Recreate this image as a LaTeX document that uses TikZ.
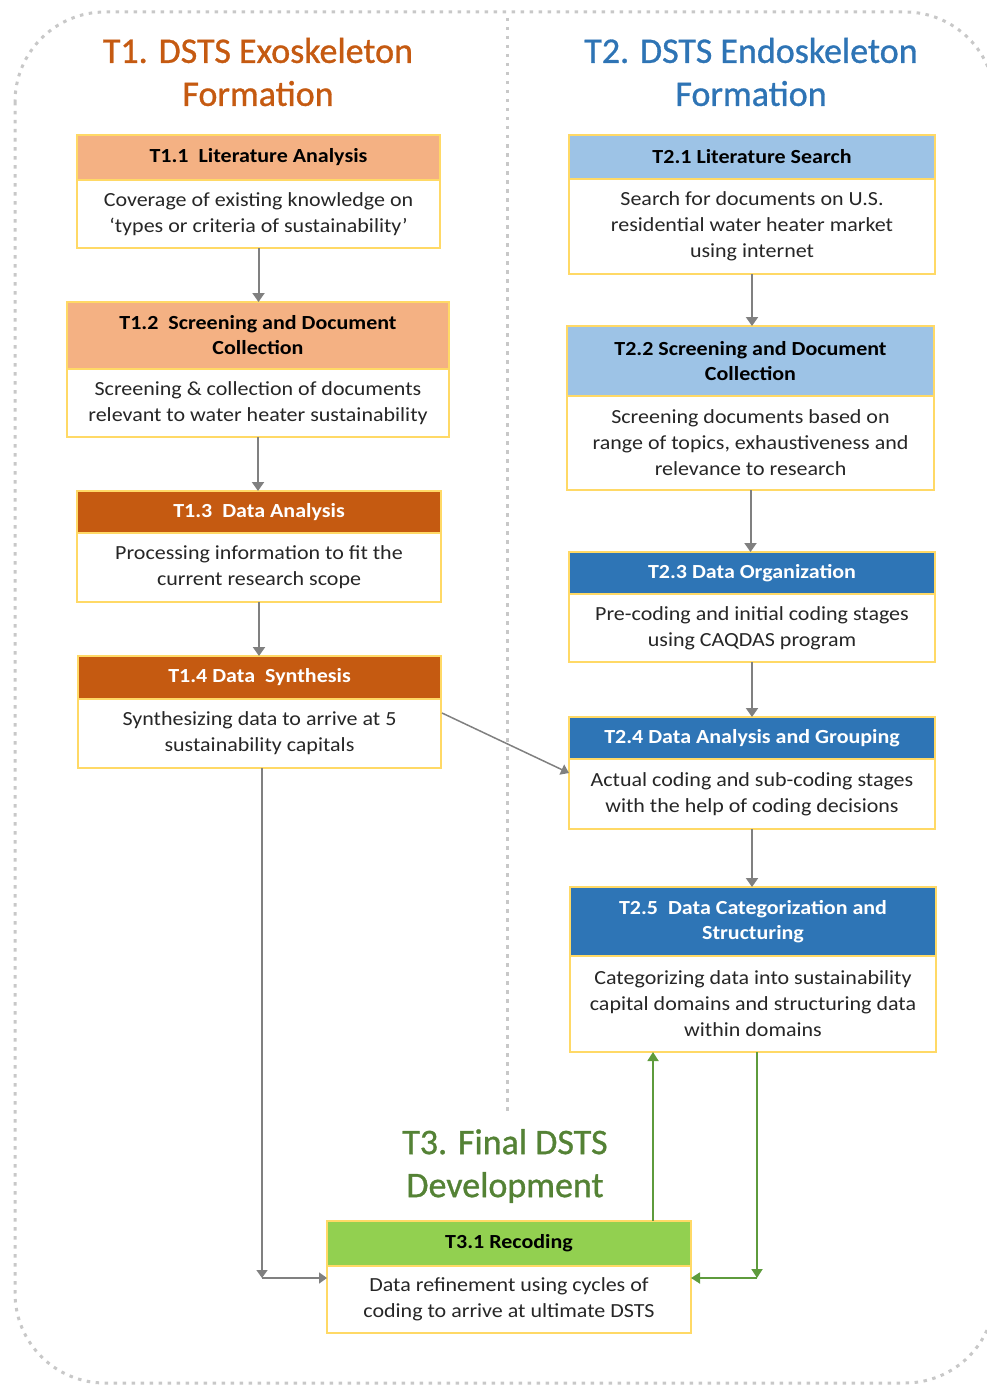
\documentclass[tikz,border=0pt]{standalone}
\usepackage{fontspec}
\setmainfont{Carlito}
\newfontfamily\boxfont{Carlito}[FakeStretch=1.1]
\newfontfamily\titlefont{Carlito}[FakeBold=0.9]
\usetikzlibrary{arrows.meta,calc}

\definecolor{boxline}{HTML}{FFD966}
\definecolor{lorange}{HTML}{F4B183}
\definecolor{dorange}{HTML}{C55A11}
\definecolor{lblue}{HTML}{9DC3E6}
\definecolor{dblue}{HTML}{2E75B6}
\definecolor{lgreen}{HTML}{92D050}
\definecolor{ttlorange}{HTML}{C55A11}
\definecolor{ttlblue}{HTML}{2E74B5}
\definecolor{ttlgreen}{HTML}{548235}
\definecolor{linegray}{HTML}{808080}
\definecolor{dotgray}{HTML}{C8C8C8}
\definecolor{linegreen}{HTML}{5E9B3C}
\definecolor{bodytext}{HTML}{262626}

\begin{document}
\begin{tikzpicture}[x=1pt,y=-1pt,
  hdr/.style={draw=boxline, line width=2.5pt, inner sep=0pt, outer sep=0pt,
    anchor=north west, align=center,
    font=\boxfont\bfseries\fontsize{20}{25}\selectfont},
  bdy/.style={draw=boxline, line width=2.5pt, inner sep=0pt, outer sep=0pt,
    anchor=north west, align=center, fill=white, text=bodytext,
    font=\boxfont\fontsize{20}{26}\selectfont},
  ttl/.style={align=center, font=\titlefont\fontsize{36}{43}\selectfont},
  dotline/.style={draw=dotgray, line width=3pt, dash pattern=on 3.5pt off 5.5pt},
  garrow/.style={draw=linegray, line width=2pt, -{Triangle[width=12pt,length=9pt]}},
  thinarrow/.style={draw=linegray, line width=1.5pt, -{Triangle[width=11pt,length=8pt]}},
  grarrow/.style={draw=linegreen, line width=1.8pt, -{Triangle[width=11pt,length=9pt]}}
]
\useasboundingbox (0,0) rectangle (986,1386);

% frame and column divider
\draw[dotline, rounded corners=90pt] (15,12) rectangle (995,1383);
\draw[dotline] (507,18) -- (507,1113);

% phase titles
\node[ttl, text=ttlorange] (ttl1) at (258,72) {T1. DSTS Exoskeleton\\Formation};
\node[ttl, text=ttlblue] (ttl2) at (751,72) {T2. DSTS Endoskeleton\\Formation};
\node[ttl, text=ttlgreen] (ttl3) at (505,1166) {T3. Final DSTS\\Development};

% T1 column
\node[hdr, fill=lorange, minimum width=363pt, minimum height=45pt] (t11h) at (77,135)
  {T1.1\enspace Literature Analysis};
\node[bdy, minimum width=363pt, minimum height=68pt] (t11b) at (77,180)
  {Coverage of existing knowledge on\\‘types or criteria of sustainability’};

\node[hdr, fill=lorange, minimum width=382pt, minimum height=67pt] (t12h) at (67,302)
  {T1.2\enspace Screening and Document\\Collection};
\node[bdy, minimum width=382pt, minimum height=68pt] (t12b) at (67,369)
  {Screening \& collection of documents\\relevant to water heater sustainability};

\node[hdr, fill=dorange, text=white, minimum width=364pt, minimum height=42pt] (t13h) at (77,491)
  {T1.3\enspace Data Analysis};
\node[bdy, minimum width=364pt, minimum height=69pt] (t13b) at (77,533)
  {Processing information to fit the\\current research scope};

\node[hdr, fill=dorange, text=white, minimum width=363pt, minimum height=43pt] (t14h) at (78,656)
  {T1.4 Data\enspace Synthesis};
\node[bdy, minimum width=363pt, minimum height=69pt] (t14b) at (78,699)
  {Synthesizing data to arrive at 5\\sustainability capitals};

% T2 column
\node[hdr, fill=lblue, minimum width=366pt, minimum height=44pt] (t21h) at (569,135)
  {T2.1 Literature Search};
\node[bdy, minimum width=366pt, minimum height=95pt] (t21b) at (569,179)
  {Search for documents on U.S.\\residential water heater market\\using internet};

\node[hdr, fill=lblue, minimum width=367pt, minimum height=70pt] (t22h) at (567,326)
  {T2.2 Screening and Document\\Collection};
\node[bdy, minimum width=367pt, minimum height=94pt] (t22b) at (567,396)
  {Screening documents based on\\range of topics, exhaustiveness and\\relevance to research};

\node[hdr, fill=dblue, text=white, minimum width=366pt, minimum height=42pt] (t23h) at (569,552)
  {T2.3 Data Organization};
\node[bdy, minimum width=366pt, minimum height=68pt] (t23b) at (569,594)
  {Pre-coding and initial coding stages\\using CAQDAS program};

\node[hdr, fill=dblue, text=white, minimum width=366pt, minimum height=42pt] (t24h) at (569,717)
  {T2.4 Data Analysis and Grouping};
\node[bdy, minimum width=366pt, minimum height=70pt] (t24b) at (569,759)
  {Actual coding and sub-coding stages\\with the help of coding decisions};

\node[hdr, fill=dblue, text=white, minimum width=366pt, minimum height=69pt] (t25h) at (570,887)
  {T2.5\enspace Data Categorization and\\Structuring};
\node[bdy, minimum width=366pt, minimum height=96pt] (t25b) at (570,956)
  {Categorizing data into sustainability\\capital domains and structuring data\\within domains};

% T3
\node[hdr, fill=lgreen, minimum width=364pt, minimum height=45pt] (t31h) at (327,1221)
  {T3.1 Recoding};
\node[bdy, minimum width=364pt, minimum height=67pt] (t31b) at (327,1266)
  {Data refinement using cycles of\\coding to arrive at ultimate DSTS};

% flow within T1
\draw[garrow] (t11b.south) -- (t11b.south |- t12h.north);
\draw[garrow] (t12b.south) -- (t12b.south |- t13h.north);
\draw[garrow] (t13b.south) -- (t13b.south |- t14h.north);

% flow within T2
\draw[garrow] (t21b.south) -- (t21b.south |- t22h.north);
\draw[garrow] (t22b.south) -- (t22b.south |- t23h.north);
\draw[garrow] (t23b.south) -- (t23b.south |- t24h.north);
\draw[garrow] (t24b.south) -- (t24b.south |- t25h.north);

% synthesis feeds analysis
\draw[thinarrow] ($(t14b.north east)+(1,14)$) -- ($(t24b.north west)+(0,14)$);

% exoskeleton path into recoding
\coordinate (c1) at (262,1278);
\draw[thinarrow] (t14b.south -| c1) -- (c1);
\draw[thinarrow] (c1) -- (c1 -| t31b.west);

% recoding cycle with T2.5
\coordinate (gx) at (653,0);
\draw[grarrow] (gx |- t31h.north) -- (gx |- t25b.south);
\coordinate (c2) at (757,1278);
\draw[grarrow] (t25b.south -| c2) -- (c2);
\draw[grarrow] (c2) -- (c2 -| t31b.east);
\end{tikzpicture}
\end{document}
